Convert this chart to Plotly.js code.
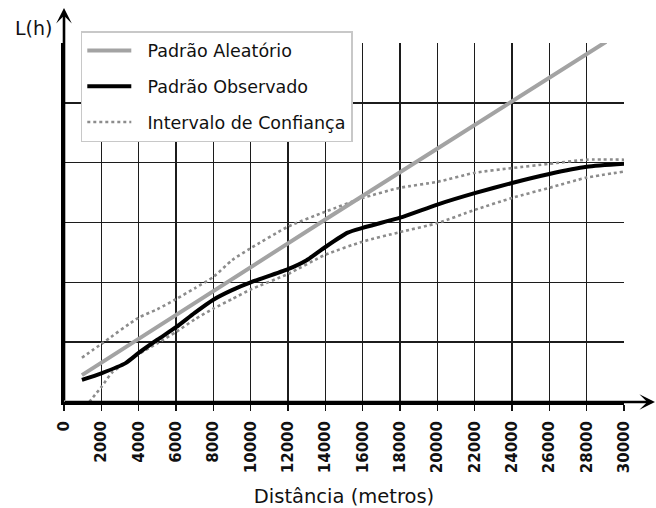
<!DOCTYPE html>
<html>
<head>
<meta charset="utf-8">
<script src="https://cdn.plot.ly/plotly-3.0.1.min.js"></script>
<style>html,body{margin:0;padding:0;background:#fff;}#chart{width:656px;height:508px;}</style>
</head>
<body>
<div id="chart"></div>
<script>
// Distance (metres)
const xTicks = [0, 2000, 4000, 6000, 8000, 10000, 12000, 14000, 16000, 18000, 20000, 22000, 24000, 26000, 28000, 30000];
const xTickLabels = ["0", "2000", "4000", "6000", "8000", "10000", "12000", "14000", "16000", "18000", "20000", "22000", "24000", "26000", "28000", "30000"];

// Padrão Aleatório (straight reference line)
const randX = [960, 14000, 29040];
const randY = [0.45, 3.05, 6.02];

// Padrão Observado
const obsX = [960, 2000, 3300, 4000, 5000, 6000, 7000, 8000, 9000, 10000, 12000, 13000, 14000, 15200, 16000, 18000, 20000, 22000, 24000, 26000, 28000, 30000];
const obsY = [0.37, 0.48, 0.65, 0.82, 1.04, 1.25, 1.49, 1.71, 1.87, 2.00, 2.22, 2.37, 2.59, 2.83, 2.91, 3.08, 3.30, 3.49, 3.66, 3.81, 3.93, 3.98];

// Intervalo de Confiança - upper envelope
const upX = [960, 2000, 4000, 5000, 6000, 7000, 8000, 9000, 10000, 12000, 14000, 16000, 18000, 20000, 22000, 24000, 26000, 28000, 30000];
const upY = [0.74, 0.97, 1.41, 1.55, 1.72, 1.90, 2.09, 2.37, 2.57, 2.93, 3.18, 3.41, 3.58, 3.68, 3.83, 3.91, 3.98, 4.05, 4.05];

// Intervalo de Confiança - lower envelope
const loX = [1350, 2000, 2600, 3300, 4000, 5000, 6000, 7000, 8000, 9000, 10000, 12000, 14000, 16000, 18000, 20000, 22000, 24000, 26000, 28000, 30000];
const loY = [0.00, 0.25, 0.50, 0.65, 0.80, 0.98, 1.17, 1.38, 1.56, 1.72, 1.88, 2.14, 2.46, 2.68, 2.84, 2.99, 3.21, 3.41, 3.58, 3.75, 3.85];

const NB = '\u00a0\u00a0';
const traces = [
  {x: upX, y: upY, mode: 'lines', name: NB + 'Intervalo de Confiança', legendgroup: 'c', legendrank: 3,
   line: {color: '#8c8c8c', width: 2.6, dash: 'dot', shape: 'spline', smoothing: 0.6}},
  {x: loX, y: loY, mode: 'lines', name: NB + 'Intervalo de Confiança', legendgroup: 'c', showlegend: false,
   line: {color: '#8c8c8c', width: 2.6, dash: 'dot', shape: 'spline', smoothing: 0.6}},
  {x: randX, y: randY, mode: 'lines', name: NB + 'Padrão Aleatório', legendgroup: 'a', legendrank: 1,
   line: {color: '#a3a3a3', width: 4}},
  {x: obsX, y: obsY, mode: 'lines', name: NB + 'Padrão Observado', legendgroup: 'b', legendrank: 2,
   line: {color: '#000000', width: 4, shape: 'spline', smoothing: 0.6}}
];

const layout = {
  width: 656, height: 508,
  margin: {l: 64, r: 32, t: 43, b: 106},
  paper_bgcolor: '#ffffff', plot_bgcolor: '#ffffff',
  font: {family: 'DejaVu Sans', color: '#000'},
  showlegend: true,
  legend: {
    x: 0.03, y: 1.033, xanchor: 'left', yanchor: 'top',
    bgcolor: '#ffffff', bordercolor: '#c8c8c8', borderwidth: 1.5,
    font: {family: 'DejaVu Sans', size: 17.5, color: '#111'},
    traceorder: 'grouped', tracegroupgap: 10, itemwidth: 44
  },
  xaxis: {
    range: [0, 30000], tickmode: 'array', tickvals: xTicks, ticktext: xTickLabels,
    tickangle: -90, tickfont: {family: 'DejaVu Sans', size: 15, weight: 'bold', color: '#111'},
    ticks: 'outside', ticklen: 6, tickwidth: 1.5, tickcolor: '#111', ticklabelstandoff: 4,
    showgrid: true, gridcolor: '#1c1c1c', gridwidth: 1.6,
    showline: true, linecolor: '#000', linewidth: 3,
    zeroline: false, fixedrange: true,
    title: {text: 'Distância (metros)', font: {family: 'DejaVu Sans', size: 19.5, color: '#111'}, standoff: 18}
  },
  yaxis: {
    range: [0, 6], dtick: 1, tick0: 0, showticklabels: false, ticks: '',
    showgrid: true, gridcolor: '#1c1c1c', gridwidth: 1.6,
    showline: true, linecolor: '#000', linewidth: 3,
    zeroline: false, fixedrange: true
  },
  annotations: [
    {xref: 'paper', yref: 'paper', x: 1.0554, y: 0, ax: -592, ay: 0, axref: 'pixel', ayref: 'pixel',
     text: '', showarrow: true, arrowhead: 3, arrowsize: 1, arrowwidth: 2.6, arrowcolor: '#000', standoff: 0},
    {xref: 'paper', yref: 'paper', x: 0, y: 1.0975, ax: 0, ay: 394, axref: 'pixel', ayref: 'pixel',
     text: '', showarrow: true, arrowhead: 3, arrowsize: 1, arrowwidth: 2.6, arrowcolor: '#000', standoff: 0},
    {xref: 'paper', yref: 'paper', x: -0.055, y: 1.043, xanchor: 'center', yanchor: 'middle',
     text: 'L(h)', showarrow: false, font: {family: 'DejaVu Sans', size: 19, color: '#111'}}
  ]
};

Plotly.newPlot('chart', traces, layout, {displayModeBar: false, staticPlot: true});
</script>
</body>
</html>
